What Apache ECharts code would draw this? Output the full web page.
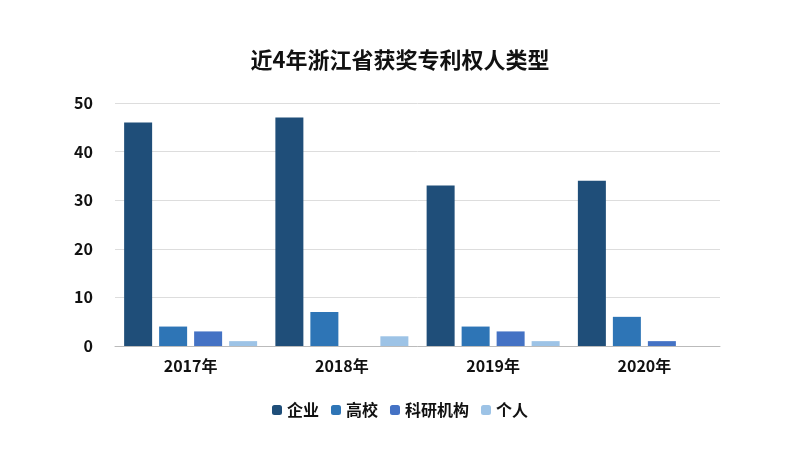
<!DOCTYPE html><html><head><meta charset="utf-8"><script src="https://cdn.jsdelivr.net/npm/echarts@6/dist/echarts.min.js"></script></head><body style="margin:0;background:#fff"><div id="c" style="width:800px;height:456px"></div><script>
const categories=['2017年','2018年','2019年','2020年'];
const seriesNames=['企业','高校','科研机构','个人'];
const qiye=[46,47,33,34];
const gaoxiao=[4,7,4,6];
const keyan=[3,0,3,1];
const geren=[1,2,1,0];
const colors=['#1f4e79','#2e75b6','#4472c4','#9dc3e6'];
const vals=[qiye,gaoxiao,keyan,geren];
const ch=echarts.init(document.getElementById('c'));
const F='"Noto Sans CJK SC", sans-serif';
ch.setOption({
title:{text:'近4年浙江省获奖专利权人类型',left:'center',top:44,textStyle:{fontFamily:F,fontSize:22,fontWeight:'bold',color:'#111'}},
legend:{bottom:33,itemWidth:10,itemHeight:10,itemGap:12,textStyle:{fontFamily:F,fontSize:16,fontWeight:'bold',color:'#111'},data:seriesNames},
grid:{left:115,right:80,top:103,bottom:110},
xAxis:{type:'category',data:categories,axisTick:{show:false},axisLine:{lineStyle:{color:'#bbb'}},axisLabel:{fontFamily:F,fontSize:16,fontWeight:'bold',color:'#111',margin:12}},
yAxis:{type:'value',min:0,max:50,interval:10,axisLabel:{fontFamily:F,fontSize:16,fontWeight:'bold',color:'#111',margin:22},splitLine:{lineStyle:{color:'#ddd'}}},
series:vals.map((v,i)=>({name:seriesNames[i],type:'bar',data:v,barWidth:28,barGap:'25%',barCategoryGap:'12%',itemStyle:{color:colors[i]}}))
});
</script></body></html>
